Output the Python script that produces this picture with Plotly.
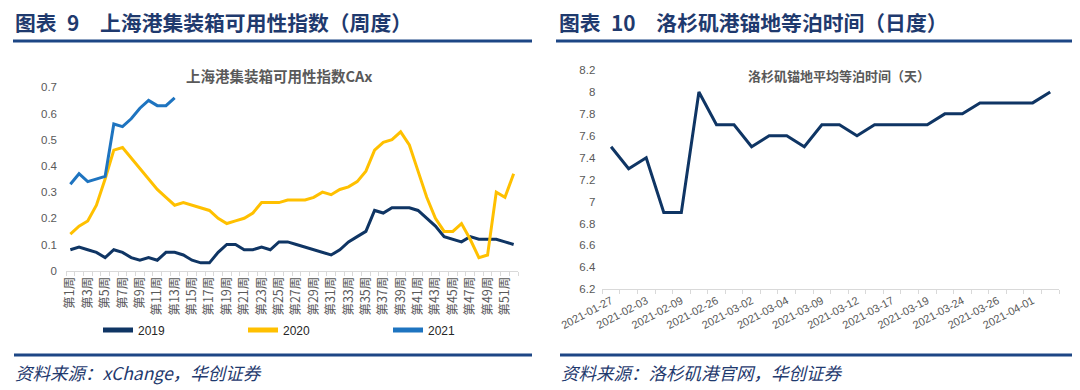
import plotly.graph_objects as go

# page body adds an 8px margin, so the figure is drawn 8px in from the top-left
OFF = 8
W, H = 1080 - OFF, 390 - OFF

# ---------- data: left chart (Shanghai CAx) ----------
weeks = [f"第{i}周" for i in range(1, 53)]
cax_2019 = [0.08, 0.09, 0.08, 0.07, 0.05, 0.08, 0.07, 0.05, 0.04, 0.05,
            0.04, 0.07, 0.07, 0.06, 0.04, 0.03, 0.03, 0.07, 0.10, 0.10,
            0.08, 0.08, 0.09, 0.08, 0.11, 0.11, 0.10, 0.09, 0.08, 0.07,
            0.06, 0.08, 0.11, 0.13, 0.15, 0.23, 0.22, 0.24, 0.24, 0.24,
            0.23, 0.20, 0.17, 0.13, 0.12, 0.11, 0.13, 0.12, 0.12, 0.12,
            0.11, 0.10]
cax_2020 = [0.14, 0.17, 0.19, 0.25, 0.35, 0.46, 0.47, 0.43, 0.39, 0.35,
            0.31, 0.28, 0.25, 0.26, 0.25, 0.24, 0.23, 0.20, 0.18, 0.19,
            0.20, 0.22, 0.26, 0.26, 0.26, 0.27, 0.27, 0.27, 0.28, 0.30,
            0.29, 0.31, 0.32, 0.34, 0.38, 0.46, 0.49, 0.50, 0.53, 0.48,
            0.38, 0.28, 0.20, 0.15, 0.15, 0.18, 0.12, 0.05, 0.06, 0.30,
            0.28, 0.37]
cax_2021 = [0.33, 0.37, 0.34, 0.35, 0.36, 0.56, 0.55, 0.58, 0.62, 0.65,
            0.63, 0.63, 0.66]
week_labels = [w if i % 2 == 0 else "" for i, w in enumerate(weeks)]

# ---------- data: right chart (LA anchorage waiting days) ----------
dates = ["2021-01-27", "2021-02-01", "2021-02-03", "2021-02-05", "2021-02-09",
         "2021-02-24", "2021-02-26", "2021-03-01", "2021-03-02", "2021-03-03",
         "2021-03-04", "2021-03-05", "2021-03-09", "2021-03-10", "2021-03-12",
         "2021-03-16", "2021-03-17", "2021-03-18", "2021-03-19", "2021-03-23",
         "2021-03-24", "2021-03-25", "2021-03-26", "2021-03-31", "2021-04-01",
         "2021-04-02"]
wait_days = [7.5, 7.3, 7.4, 6.9, 6.9, 8.0, 7.7, 7.7, 7.5, 7.6,
             7.6, 7.5, 7.7, 7.7, 7.6, 7.7, 7.7, 7.7, 7.7, 7.8,
             7.8, 7.9, 7.9, 7.9, 7.9, 8.0]
date_labels = [d if i % 2 == 0 else "" for i, d in enumerate(dates)]

NAVY = "#0F3564"
YELLOW = "#FFC000"
BLUE = "#1E74C0"
GRAY = "#595959"
HEAD = "#1F3A6E"
RULE = "#1D4685"
CJK = "Noto Sans CJK SC"


def px(x):
    return (x - OFF) / W


def py(y):
    return 1 - (y - OFF) / H


fig = go.Figure()
fig.add_trace(go.Scatter(x=weeks, y=cax_2019, mode="lines", name="2019",
                         line=dict(color=NAVY, width=3), xaxis="x", yaxis="y"))
fig.add_trace(go.Scatter(x=weeks, y=cax_2020, mode="lines", name="2020",
                         line=dict(color=YELLOW, width=3), xaxis="x", yaxis="y"))
fig.add_trace(go.Scatter(x=weeks[:len(cax_2021)], y=cax_2021, mode="lines", name="2021",
                         line=dict(color=BLUE, width=3), xaxis="x", yaxis="y"))
fig.add_trace(go.Scatter(x=dates, y=wait_days, mode="lines", name="等泊时间",
                         line=dict(color=NAVY, width=3), xaxis="x2", yaxis="y2",
                         showlegend=False))

tickfont = dict(family="Liberation Sans, Arial", size=11.5, color=GRAY)

fig.update_layout(
    width=W, height=H, autosize=False,
    margin=dict(l=0, r=0, t=0, b=0, pad=0, autoexpand=False),
    paper_bgcolor="white", plot_bgcolor="white",
    showlegend=True,
    legend=dict(orientation="h", x=px(98), y=py(330), xanchor="left", yanchor="middle",
                font=dict(family="Liberation Sans, Arial", size=12, color="#262626"),
                entrywidth=100, bgcolor="rgba(0,0,0,0)", itemsizing="constant"),
    xaxis=dict(domain=[px(66), px(518)], type="category", range=[-0.5, 51.5],
               tickmode="array", tickvals=weeks, ticktext=week_labels,
               tickson="boundaries", ticks="outside", ticklen=4, tickcolor="#D9D9D9",
               showline=True, linecolor="#D9D9D9", linewidth=1, showgrid=False,
               tickangle=-90, tickfont=dict(family=CJK, size=12.5, color=GRAY),
               anchor="y", fixedrange=True, automargin=False),
    yaxis=dict(domain=[py(270.7), py(87.3)], range=[0, 0.7], dtick=0.1,
               showgrid=False, zeroline=False, showline=False, ticklabelstandoff=8,
               tickfont=tickfont, ticks="", anchor="x", fixedrange=True, automargin=False),
    xaxis2=dict(domain=[px(602.3), px(1059)], type="category", range=[-0.5, 25.5],
                tickmode="array", tickvals=dates, ticktext=date_labels,
                tickson="boundaries", ticks="outside", ticklen=4, tickcolor="#D9D9D9",
                showline=True, linecolor="#D9D9D9", linewidth=1, showgrid=False,
                tickangle=-28, tickfont=dict(family="Liberation Sans, Arial", size=11, color=GRAY),
                anchor="y2", fixedrange=True, automargin=False),
    yaxis2=dict(domain=[py(289.3), py(70)], range=[6.2, 8.2], dtick=0.2,
                showgrid=False, zeroline=False, showline=False, ticklabelstandoff=6,
                tickfont=tickfont, ticks="", anchor="x2", fixedrange=True, automargin=False),
)

shapes = []
for x0, x1 in [(13, 532), (556, 1075)]:
    shapes.append(dict(type="line", xref="paper", yref="paper",
                       x0=px(x0), x1=px(x1), y0=py(41), y1=py(41),
                       line=dict(color=RULE, width=3)))
for x0, x1 in [(14, 532), (560, 1078)]:
    shapes.append(dict(type="line", xref="paper", yref="paper",
                       x0=px(x0), x1=px(x1), y0=py(355), y1=py(355),
                       line=dict(color=RULE, width=3)))
fig.update_layout(shapes=shapes)

ann = []
ann.append(dict(text="<b>图表\u20029\u3000上海港集装箱可用性指数（周度）</b>", x=px(13), y=py(22),
                xanchor="left", yanchor="middle", showarrow=False, xref="paper", yref="paper",
                font=dict(family=CJK, size=20.8, color=HEAD)))
ann.append(dict(text="<b>图表\u200210\u3000洛杉矶港锚地等泊时间（日度）</b>", x=px(557), y=py(22),
                xanchor="left", yanchor="middle", showarrow=False, xref="paper", yref="paper",
                font=dict(family=CJK, size=20.8, color=HEAD)))
ann.append(dict(text="<b>上海港集装箱可用性指数CAx</b>", x=px(279), y=py(75),
                xanchor="center", yanchor="middle", showarrow=False, xref="paper", yref="paper",
                font=dict(family=CJK, size=14.5, color=GRAY)))
ann.append(dict(text="<b>洛杉矶锚地平均等泊时间（天）</b>", x=px(839), y=py(75),
                xanchor="center", yanchor="middle", showarrow=False, xref="paper", yref="paper",
                font=dict(family=CJK, size=13, color=GRAY)))
ann.append(dict(text="资料来源：xChange，华创证券", x=px(13), y=py(372),
                xanchor="left", yanchor="middle", showarrow=False, xref="paper", yref="paper",
                font=dict(family=CJK, size=17.5, color=HEAD, style="italic")))
ann.append(dict(text="资料来源：洛杉矶港官网，华创证券", x=px(559), y=py(372),
                xanchor="left", yanchor="middle", showarrow=False, xref="paper", yref="paper",
                font=dict(family=CJK, size=17.5, color=HEAD, style="italic")))
fig.update_layout(annotations=ann)

fig.write_html("out.html")
